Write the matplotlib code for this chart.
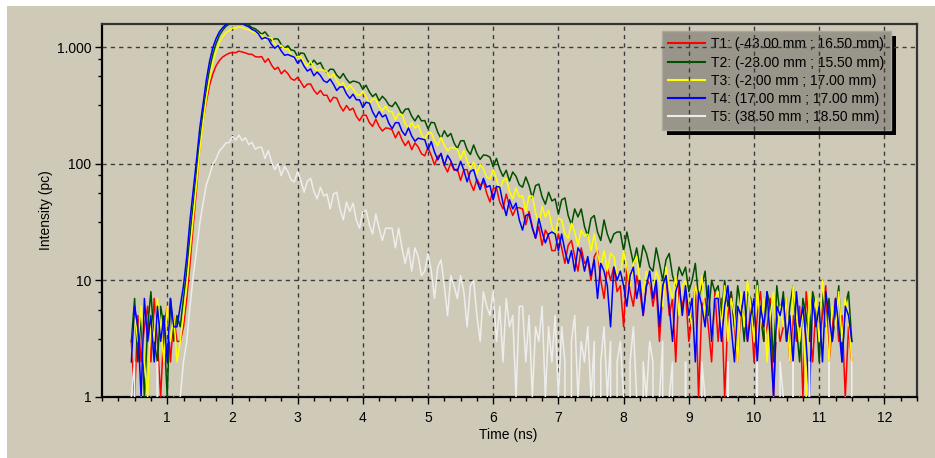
import numpy as np
import matplotlib
matplotlib.use('Agg')
import matplotlib.pyplot as plt
from matplotlib.patches import Rectangle
from matplotlib.transforms import IdentityTransform
from matplotlib.ticker import FixedLocator, FixedFormatter, NullFormatter, MultipleLocator

plt.rcParams['font.family'] = ['Liberation Sans', 'DejaVu Sans']

# time channels (ns), 0.05 ns apart
time_ns = np.linspace(0.45, 11.5, 222)

# photon counts per channel, one list per probe position
t1_counts = [
    3, 1, 5, 2, 4, 6, 2, 7, 3, 1,
    4, 6, 2, 5, 3, 3, 4, 7, 14, 30,
    61, 138, 232, 338, 472, 588, 693, 768, 823, 858,
    887, 902, 896, 925, 908, 893, 871, 868, 830, 822,
    830, 742, 797, 703, 644, 673, 591, 634, 594, 537,
    520, 551, 502, 450, 482, 483, 427, 395, 426, 387,
    387, 339, 372, 366, 314, 283, 316, 288, 300, 256,
    234, 261, 261, 226, 209, 241, 209, 191, 203, 201,
    195, 167, 189, 161, 143, 157, 132, 151, 139, 122,
    117, 138, 118, 98, 116, 120, 97, 85, 102, 88,
    90, 72, 89, 89, 69, 59, 74, 65, 71, 56,
    47, 61, 62, 47, 41, 55, 43, 36, 42, 42,
    41, 30, 39, 29, 23, 29, 20, 27, 24, 18,
    18, 25, 19, 14, 20, 22, 16, 12, 19, 14,
    15, 10, 16, 18, 10, 7, 13, 10, 13, 8,
    9, 4, 13, 8, 6, 11, 8, 5, 9, 10,
    6, 9, 3, 8, 11, 5, 7, 2, 9, 6,
    8, 3, 5, 9, 1, 6, 7, 4, 2, 8,
    3, 7, 1, 5, 8, 4, 2, 6, 5, 3,
    6, 2, 5, 8, 3, 4, 7, 1, 5, 3,
    4, 7, 2, 5, 3, 6, 1, 8, 4, 2,
    6, 3, 5, 9, 2, 4, 7, 3, 5, 1,
    4, 2]

t2_counts = [
    3, 7, 2, 5, 1, 4, 8, 3, 2, 6,
    4, 1, 7, 3, 5, 4, 7, 12, 24, 46,
    86, 158, 272, 428, 645, 868, 1075, 1262, 1395, 1508,
    1572, 1615, 1660, 1644, 1668, 1590, 1548, 1471, 1440, 1368,
    1292, 1352, 1245, 1133, 1183, 1172, 1053, 981, 1030, 947,
    933, 827, 894, 881, 772, 708, 774, 713, 738, 646,
    605, 648, 644, 576, 541, 594, 532, 493, 512, 505,
    491, 435, 472, 414, 377, 399, 347, 379, 354, 319,
    309, 338, 303, 266, 293, 297, 256, 233, 260, 233,
    235, 200, 227, 224, 186, 165, 192, 171, 182, 151,
    135, 157, 158, 132, 120, 145, 122, 109, 119, 118,
    114, 94, 111, 90, 78, 88, 71, 85, 78, 66,
    63, 77, 65, 51, 65, 67, 52, 45, 57, 48,
    50, 37, 49, 51, 36, 30, 41, 35, 41, 29,
    24, 34, 36, 26, 22, 33, 25, 21, 25, 26,
    26, 18, 26, 19, 14, 19, 13, 20, 17, 13,
    12, 19, 14, 10, 15, 17, 11, 9, 13, 11,
    13, 8, 10, 14, 7, 9, 12, 5, 10, 8,
    9, 5, 10, 6, 8, 4, 9, 6, 3, 8,
    7, 4, 10, 5, 3, 8, 6, 2, 9, 5,
    8, 3, 6, 9, 4, 2, 7, 5, 3, 8,
    6, 2, 8, 4, 7, 3, 5, 9, 2, 6,
    8, 3]

t3_counts = [
    2, 5, 3, 6, 2, 1, 5, 3, 7, 4,
    2, 6, 3, 5, 2, 3, 5, 9, 18, 35,
    68, 131, 224, 362, 538, 742, 928, 1103, 1227, 1334,
    1391, 1460, 1452, 1493, 1470, 1428, 1415, 1358, 1336, 1281,
    1270, 1152, 1217, 1193, 1064, 983, 1042, 962, 975, 862,
    791, 834, 828, 738, 690, 756, 675, 625, 646, 635,
    615, 543, 590, 517, 471, 497, 432, 472, 440, 397,
    386, 418, 375, 330, 358, 360, 311, 285, 313, 280,
    280, 239, 269, 265, 222, 198, 226, 203, 215, 179,
    163, 184, 185, 157, 144, 169, 144, 129, 138, 137,
    134, 110, 130, 106, 92, 103, 82, 99, 90, 77,
    74, 89, 74, 59, 72, 75, 58, 50, 62, 52,
    53, 39, 53, 53, 38, 30, 43, 35, 40, 29,
    24, 34, 33, 25, 23, 31, 26, 20, 27, 24,
    25, 18, 25, 17, 13, 18, 12, 17, 16, 11,
    11, 18, 13, 9, 14, 16, 10, 8, 12, 10,
    8, 12, 10, 6, 13, 9, 7, 11, 5, 9,
    10, 6, 4, 9, 7, 11, 5, 8, 3, 7,
    8, 4, 9, 3, 7, 5, 2, 8, 4, 10,
    6, 3, 9, 4, 7, 2, 5, 8, 3, 6,
    4, 7, 2, 9, 5, 3, 6, 1, 8, 4,
    7, 3, 10, 5, 2, 6, 4, 8, 3, 7,
    5, 2]

t4_counts = [
    2, 6, 4, 1, 7, 3, 5, 2, 6, 3,
    5, 2, 7, 4, 4, 6, 9, 16, 33, 60,
    108, 203, 328, 522, 757, 993, 1187, 1354, 1468, 1563,
    1625, 1644, 1671, 1630, 1606, 1538, 1497, 1421, 1379, 1298,
    1175, 1208, 1179, 1053, 979, 1032, 925, 852, 865, 842,
    819, 728, 778, 685, 624, 651, 569, 612, 571, 515,
    498, 533, 480, 425, 456, 456, 397, 364, 395, 354,
    353, 304, 337, 331, 279, 249, 280, 252, 263, 222,
    200, 225, 225, 191, 175, 203, 173, 156, 166, 163,
    161, 132, 155, 126, 108, 123, 97, 118, 106, 90,
    87, 105, 88, 70, 86, 89, 71, 60, 75, 63,
    65, 49, 64, 63, 46, 36, 49, 41, 46, 33,
    27, 36, 37, 28, 23, 34, 26, 21, 25, 26,
    25, 18, 25, 18, 14, 18, 12, 19, 17, 12,
    16, 11, 15, 7, 14, 12, 9, 4, 13, 10,
    12, 9, 6, 11, 13, 7, 10, 5, 9, 12,
    7, 10, 4, 9, 11, 6, 3, 8, 10, 5,
    9, 5, 7, 2, 8, 6, 4, 9, 3, 7,
    7, 3, 6, 9, 4, 2, 6, 5, 8, 3,
    5, 7, 2, 6, 4, 8, 3, 1, 6, 5,
    7, 3, 5, 2, 8, 4, 6, 3, 1, 7,
    4, 6, 2, 8, 5, 3, 7, 4, 2, 6,
    5, 3]

t5_counts = [
    1, 2, 0, 1, 0, 0, 1, 0, 2, 0,
    1, 0, 0, 1, 0, 1, 2, 3, 6, 11,
    18, 31, 46, 66, 80, 99, 110, 129, 138, 151,
    152, 171, 160, 176, 158, 167, 146, 153, 133, 139,
    138, 111, 130, 104, 89, 100, 79, 95, 86, 73,
    70, 86, 72, 57, 71, 75, 58, 50, 63, 53,
    55, 41, 55, 57, 41, 33, 47, 39, 46, 33,
    28, 39, 40, 30, 25, 37, 28, 22, 28, 28,
    28, 19, 28, 19, 14, 19, 12, 19, 16, 11,
    12, 17, 12, 7, 13, 15, 9, 5, 11, 9,
    7, 11, 8, 4, 9, 10, 5, 3, 8, 6,
    5, 8, 3, 6, 2, 7, 4, 5, 1, 6,
    6, 2, 5, 1, 4, 3, 6, 1, 4, 2,
    5, 1, 4, 2, 0, 3, 5, 1, 3, 2,
    4, 1, 3, 0, 2, 4, 1, 3, 0, 2,
    3, 1, 0, 2, 4, 1, 0, 2, 1, 3,
    2, 0, 1, 3, 0, 1, 2, 0, 1, 0,
    2, 0, 1, 0, 0, 2, 1, 0, 1, 0,
    0, 1, 0, 2, 0, 0, 1, 0, 0, 1,
    0, 0, 2, 0, 1, 0, 0, 1, 0, 2,
    1, 0, 0, 2, 0, 1, 0, 0, 2, 0,
    0, 1, 0, 0, 2, 0, 1, 0, 0, 1,
    0, 2]

series = [t1_counts, t2_counts, t3_counts, t4_counts, t5_counts]
labels = ['T1: (-43.00 mm ; 16.50 mm)', 'T2: (-23.00 mm ; 15.50 mm)',
          'T3: (-2.00 mm ; 17.00 mm)', 'T4: (17.00 mm ; 17.00 mm)',
          'T5: (38.50 mm ; 18.50 mm)']
colors = ['#ff0000', '#005000', '#ffff00', '#0000ff', '#ededed']

y_ticks = [1, 10, 100, 1000]
y_ticklabels = ['1', '10', '100', '1.000']

for counts in series:
    assert len(counts) == len(time_ns)

bg = '#cfcab8'
W, H = 935, 458

fig = plt.figure(figsize=(W / 100, H / 100), dpi=100, facecolor=bg)
fig.add_artist(Rectangle((0, 1 - 6 / H), 1, 6 / H, transform=fig.transFigure,
                         facecolor='white', edgecolor='none'))
fig.add_artist(Rectangle((0, 0), 7 / W, 1, transform=fig.transFigure,
                         facecolor='white', edgecolor='none'))

ax = fig.add_axes([102 / W, 1 - 397 / H, 815 / W, 373 / H])
ax.set_facecolor(bg)

for counts, c, lab in zip(series, colors, labels):
    ax.plot(time_ns, counts, color=c, lw=1.1, label=lab, zorder=3)

ax.set_yscale('log')
ax.set_xlim(0, 12.5)
ax.set_ylim(1, 1580)

ax.xaxis.set_major_locator(FixedLocator(range(1, 13)))
ax.xaxis.set_minor_locator(MultipleLocator(0.25))
ax.yaxis.set_major_locator(FixedLocator(y_ticks))
ax.yaxis.set_major_formatter(FixedFormatter(y_ticklabels))
minor_y = [10 ** k * f for k in (1, 2, 3) for f in (10 ** -0.1, 10 ** -0.25, 10 ** -0.5)]
ax.yaxis.set_minor_locator(FixedLocator(minor_y))
ax.yaxis.set_minor_formatter(NullFormatter())

ax.set_axisbelow(False)
ax.grid(True, which='major', color='#3c3c3c', linestyle=(0, (3, 3)), linewidth=1)

ax.tick_params(which='both', direction='out', top=False, right=False, colors='black')
ax.tick_params(which='major', length=5, width=1, labelsize=10)
ax.tick_params(which='minor', length=3, width=1)
ax.tick_params(axis='x', which='major', pad=5)
ax.tick_params(axis='y', which='major', pad=2.5)

for side in ('left', 'bottom'):
    ax.spines[side].set_linewidth(1.6)
    ax.spines[side].set_color('black')
for side in ('top', 'right'):
    ax.spines[side].set_linewidth(1.6)
    ax.spines[side].set_color('#333333')

fig.text(508 / W, 1 - 435 / H, 'Time (ns)', ha='center', va='center', fontsize=10)
fig.text(46 / W, 1 - 210 / H, 'Intensity (pc)', ha='center', va='center',
         rotation=90, fontsize=10)

leg = ax.legend(loc='upper right', bbox_to_anchor=(0.968, 0.981), borderaxespad=0,
                fontsize=10, handlelength=2.66, handletextpad=0.45, borderpad=0.45,
                labelspacing=0.3, fancybox=False, framealpha=1,
                facecolor='#99958a', edgecolor='#aaa698')
leg.set_zorder(2)
for h in leg.get_lines():
    h.set_linewidth(1.5)

# solid black drop shadow behind the legend box
fig.canvas.draw()
bb = leg.get_frame().get_window_extent(fig.canvas.get_renderer())
ax.add_artist(Rectangle((bb.x0 + 5, bb.y0 - 5), bb.width, bb.height,
                        transform=IdentityTransform(), facecolor='black',
                        edgecolor='none', zorder=1.9))

fig.savefig('out.png', dpi=100, facecolor=bg)
